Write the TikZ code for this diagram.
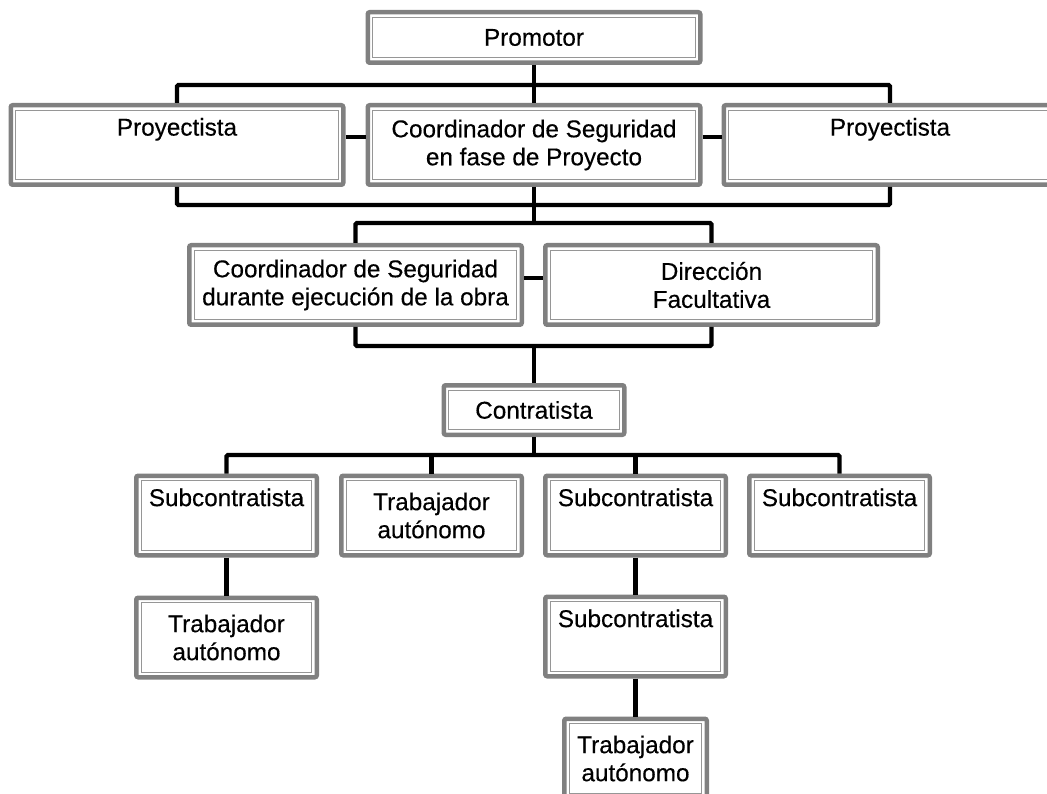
\documentclass[tikz,border=0pt]{standalone}
\usepackage{fontspec}
\setmainfont{Liberation Sans}[BoldFont=Liberation Sans, BoldFeatures={FakeBold=0.3}]
\usepackage{tikz}
\usetikzlibrary{positioning}
\definecolor{marco}{RGB}{128,128,128}
\definecolor{interior}{RGB}{150,150,150}
\tikzstyle{block} = [rectangle, draw=marco, line width=4.5pt, fill=white,
rounded corners=2pt, align=center, minimum height=79.5pt, inner sep=2pt,
font=\fontsize{24.3}{28}\selectfont\bfseries,
path picture={\draw[interior, line width=1pt, sharp corners]
 ([shift={(5pt,-5pt)}]path picture bounding box.north west) rectangle
 ([shift={(-5pt,5pt)}]path picture bounding box.south east);}]
\tikzstyle{wide} = [minimum width=332.5pt]
\tikzstyle{narrow} = [minimum width=180.5pt]
\tikzstyle{line} = [draw, line width=4.3pt, rounded corners=1.5pt]

\begin{document}
\begin{tikzpicture}[x=1pt, y=-1pt]
\useasboundingbox (0,0) rectangle (1047,794);
\clip (0,0) rectangle (1047,794);
    % nodes
\node [block, wide, minimum height=50.5pt] (prom) at (534,37.5) {Promotor};
\node [block, wide] (csp) at (534,145) {Coordinador de Seguridad\\en fase de Proyecto};
\node [block, wide, left=20pt of csp] (proy1) {Proyectista\\\strut};
\node [block, wide, right=19pt of csp] (proy2) {Proyectista\\\strut};
\node [block, wide] (cse) at (355.5,285) {Coordinador de Seguridad\\durante ejecución de la obra};
\node [block, wide, right=19pt of cse] (df) {Dirección\\Facultativa};
\node [block, narrow, minimum height=49.5pt] (contr) at (534,410) {Contratista};
\node [block, narrow] (sub1) at (226.5,515.5) {Subcontratista\\\strut};
\node [block, narrow, right=20pt of sub1] (trab1) {Trabajador\\autónomo};
\node [block, narrow, right=19pt of trab1] (sub2) {Subcontratista\\\strut};
\node [block, narrow, right=19pt of sub2] (sub3) {Subcontratista\\\strut};
\node [block, narrow, below=38pt of sub1] (trab2) {Trabajador\\autónomo};
\node [block, narrow, below=37pt of sub2] (sub4) {Subcontratista\\\strut};
\node [block, minimum width=142.5pt, below=38pt of sub4] (trab3) {Trabajador\\autónomo};

\coordinate (t1) at (534,85);
\coordinate (t2) at (534,205);
\coordinate (t3) at (534,223);
\coordinate (t4) at (534,346);
\coordinate (t5) at (534,455);

%edges
\path [line] (prom) -- (csp);
\path [line] (proy1.north) |- (t1) -| (proy2.north);
\path [line] ([yshift=8pt]proy1.east) -- ([yshift=8pt]csp.west);
\path [line] ([yshift=8pt]csp.east) -- ([yshift=8pt]proy2.west);
\path [line] (proy1.south) |- (t2) -| (proy2.south);
\path [line] (csp) -- (t3);
\path [line] (cse.north) |- (t3) -| (df.north);
\path [line] ([yshift=7pt]cse.east) -- ([yshift=7pt]df.west);
\path [line] (cse.south) |- (t4) -| (df.south);
\path [line] (t4) -- (contr);
\path [line] (contr) -- (t5);
\path [line] (sub1.north) |- (t5) -| (sub3.north);
\path [line] (trab1.north) -- (trab1.north |- t5);
\path [line] (sub2.north) -- (sub2.north |- t5);
\path [line] (sub1) -- (trab2);
\path [line] (sub2) -- (sub4);
\path [line] (sub4) -- (trab3);

\end{tikzpicture}
\end{document}
